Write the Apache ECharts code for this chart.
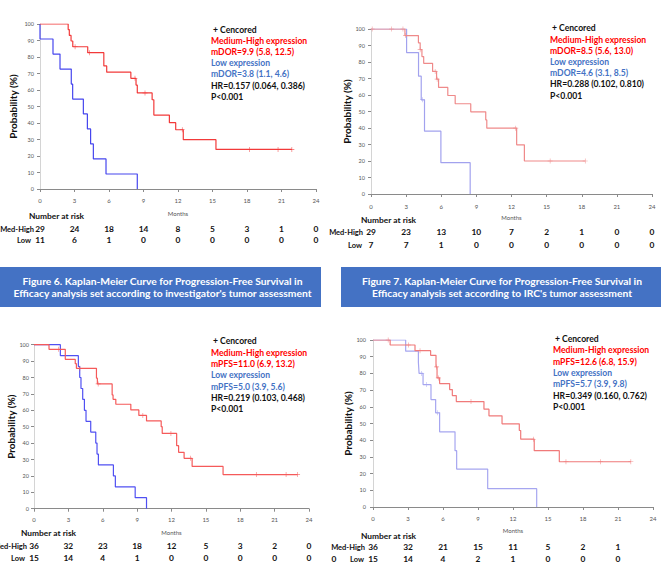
<!DOCTYPE html>
<html><head><meta charset="utf-8">
<script src="https://cdn.jsdelivr.net/npm/echarts@6/dist/echarts.min.js"></script>
<style>html,body{margin:0;padding:0;background:#fff}#c{width:661px;height:565px}</style>
</head><body><div id="c"></div>
<script>
// ---------- DATA ----------
const riskMonths = [0, 3, 6, 9, 12, 15, 18, 21, 24];

// Panel A (top-left): DOR, investigator
const aHighTime = [0, 2.45, 2.55, 2.7, 2.85, 4.15, 5.55, 5.8, 7.9, 8.35, 8.46, 9.75, 9.9, 11.25, 11.8, 12.46, 15.3, 21.9];
const aHighSurv = [100, 96.6, 93.1, 89.7, 86.2, 82.6, 74.6, 70.8, 67.1, 63.0, 58.2, 54.1, 44.8, 40.2, 35.9, 29.9, 24.0, 24.0];
const aHighCensTime = [3.05, 4.3, 8.26, 9.13, 12.37, 18.2, 20.7, 21.9];
const aHighCensSurv = [86.2, 82.6, 67.1, 58.2, 35.9, 24.0, 24.0, 24.0];
const aLowTime = [0, 0, 1.13, 1.74, 2.72, 2.84, 3.77, 4.12, 4.4, 4.64, 5.74, 8.46];
const aLowSurv = [100, 90.9, 81.8, 72.7, 63.6, 54.5, 45.5, 36.4, 27.3, 18.2, 9.1, 0];
const aLowCensTime = [];
const aLowCensSurv = [];
const aRiskHigh = [29, 24, 18, 14, 8, 5, 3, 1, 0];
const aRiskLow = [11, 6, 1, 0, 0, 0, 0, 0, 0];
const aLegend = ['+ Cencored', 'Medium-High expression', 'mDOR=9.9 (5.8, 12.5)', 'Low expression', 'mDOR=3.8 (1.1, 4.6)', 'HR=0.157 (0.064, 0.386)', 'P<0.001'];

// Panel B (top-right): DOR, IRC
const bHighTime = [0, 2.9, 4.05, 4.2, 4.35, 4.5, 5.26, 5.6, 5.77, 6.56, 7.19, 8.52, 9.8, 9.89, 12.44, 13.1, 18.3];
const bHighSurv = [100, 96.0, 91.6, 87.5, 83.3, 79.2, 74.3, 69.6, 64.6, 59.7, 54.7, 49.8, 44.9, 39.9, 29.8, 20.0, 20.0];
const bHighCensTime = [0.1, 1.76, 2.73, 2.95, 4.2, 5.48, 5.65, 12.36, 15.3, 18.3];
const bHighCensSurv = [100, 100, 100, 96.0, 87.5, 74.3, 69.6, 39.9, 20.0, 20.0];
const bLowTime = [0, 3.04, 4.06, 4.29, 4.57, 5.97, 8.47];
const bLowSurv = [100, 85.7, 71.4, 57.1, 38.1, 19.0, 0];
const bLowCensTime = [4.4];
const bLowCensSurv = [57.1];
const bRiskHigh = [29, 23, 13, 10, 7, 2, 1, 0, 0];
const bRiskLow = [7, 7, 1, 0, 0, 0, 0, 0, 0];
const bLegend = ['+ Cencored', 'Medium-High expression', 'mDOR=8.5 (5.6, 13.0)', 'Low expression', 'mDOR=4.6 (3.1, 8.5)', 'HR=0.288 (0.102, 0.810)', 'P<0.001'];

// Panel C (bottom-left): PFS, investigator
const cHighTime = [0, 1.31, 2.73, 3.6, 3.7, 5.45, 5.53, 6.82, 6.9, 7.14, 8.45, 9.15, 9.82, 11.1, 11.19, 12.45, 12.62, 13.1, 13.8, 16.5, 23.0];
const cHighSurv = [100, 97.2, 91.1, 88.4, 85.6, 79.6, 76.1, 69.4, 66.7, 63.7, 60.2, 56.9, 53.5, 50.0, 45.9, 38.4, 34.4, 30.7, 25.8, 20.8, 20.8];
const cHighCensTime = [2.13, 4.0, 5.6, 9.5, 11.95, 13.67, 19.4, 22.0, 23.0];
const cHighCensSurv = [97.2, 85.6, 76.1, 56.9, 45.9, 30.7, 20.8, 20.8, 20.8];
const cLowTime = [0, 2.3, 3.87, 3.99, 4.1, 4.25, 4.4, 4.54, 4.95, 5.39, 5.5, 5.62, 6.93, 7.1, 8.83, 9.82];
const cLowSurv = [100, 93.3, 86.7, 80.0, 73.3, 66.7, 60.0, 53.3, 46.7, 40.0, 33.3, 26.7, 20.0, 13.3, 6.7, 0];
const cLowCensTime = [];
const cLowCensSurv = [];
const cRiskHigh = [36, 32, 23, 18, 12, 5, 3, 2, 0];
const cRiskLow = [15, 14, 4, 1, 0, 0, 0, 0, 0];
const cLegend = ['+ Cencored', 'Medium-High expression', 'mPFS=11.0 (6.9, 13.2)', 'Low expression', 'mPFS=5.0 (3.9, 5.6)', 'HR=0.219 (0.103, 0.468)', 'P<0.001'];

// Panel D (bottom-right): PFS, IRC
const dHighTime = [0, 1.47, 3.6, 4.94, 5.4, 5.49, 5.71, 6.57, 6.8, 7.14, 9.51, 9.94, 11.06, 12.54, 12.66, 13.82, 15.97, 22.1];
const dHighSurv = [100, 97.0, 93.6, 90.8, 83.9, 77.3, 73.9, 70.3, 66.7, 63.1, 58.6, 54.6, 49.8, 45.8, 40.6, 33.7, 27.1, 27.1];
const dHighCensTime = [1.3, 3.03, 4.03, 5.45, 5.6, 8.4, 13.74, 16.54, 19.5, 22.1];
const dHighCensSurv = [100, 97.0, 93.6, 83.9, 77.3, 63.1, 40.6, 27.1, 27.1, 27.1];
const dLowTime = [0, 2.8, 3.89, 3.95, 4.29, 4.97, 5.37, 5.71, 7.03, 7.17, 9.83, 14.03];
const dLowSurv = [100, 93.3, 86.7, 80.0, 73.3, 64.3, 56.4, 45.0, 33.7, 22.7, 11.0, 0];
const dLowCensTime = [4.17, 4.57, 5.54];
const dLowCensSurv = [80.0, 73.3, 56.4];
const dRiskHigh = [36, 32, 21, 15, 11, 5, 2, 1];
const dRiskHighWrapped = '0';
const dRiskLow = [15, 14, 4, 2, 1, 0, 0, 0];
const dLegend = ['+ Cencored', 'Medium-High expression', 'mPFS=12.6 (6.8, 15.9)', 'Low expression', 'mPFS=5.7 (3.9, 9.8)', 'HR=0.349 (0.160, 0.762)', 'P<0.001'];

const banner6 = ['Figure 6. Kaplan-Meier Curve for Progression-Free Survival in', "Efficacy analysis set according to investigator's tumor assessment"];
const banner7 = ['Figure 7. Kaplan-Meier Curve for Progression-Free Survival in', "Efficacy analysis set according to IRC's tumor assessment"];

// ---------- LAYOUT / STYLE ----------
const FONT = 'Lato';
const panels = [
  { grid: {left: 40, top: 24, width: 276, height: 165}, xOff: 4, yOff: 4, lblMargin: 4, xNameGap: 17, yNameGap: 18,
    high: [aHighTime, aHighSurv, aHighCensTime, aHighCensSurv], low: [aLowTime, aLowSurv, aLowCensTime, aLowCensSurv],
    red: '#f23a3a', blue: '#4646ee', legend: aLegend, legX: 211, legY: 30, legStep: 11.1, labGap: 6,
    riskTitle: [29, 216], riskY: [229, 240], riskHigh: aRiskHigh, riskLow: aRiskLow },
  { grid: {left: 371, top: 29, width: 281, height: 165}, xOff: 5, yOff: 4, lblMargin: 4, xNameGap: 15, yNameGap: 14,
    high: [bHighTime, bHighSurv, bHighCensTime, bHighCensSurv], low: [bLowTime, bLowSurv, bLowCensTime, bLowCensSurv],
    red: '#ef8a8a', blue: '#a2a2ee', legend: bLegend, legX: 550, legY: 28.3, legStep: 11.2, labGap: 8,
    riskTitle: [361, 220], riskY: [232, 245], riskHigh: bRiskHigh, riskLow: bRiskLow },
  { grid: {left: 34, top: 344.7, width: 275, height: 164}, xOff: 3, yOff: 3, lblMargin: 5, xNameGap: 18, yNameGap: 13,
    high: [cHighTime, cHighSurv, cHighCensTime, cHighCensSurv], low: [cLowTime, cLowSurv, cLowCensTime, cLowCensSurv],
    red: '#f55a5a', blue: '#5050f2', legend: cLegend, legX: 211, legY: 341.3, legStep: 11.3, labGap: 7,
    riskTitle: [21, 533], riskY: [546, 558], riskHigh: cRiskHigh, riskLow: cRiskLow },
  { grid: {left: 373, top: 340, width: 280, height: 167}, xOff: 4, yOff: 5, lblMargin: 4, xNameGap: 16, yNameGap: 13,
    high: [dHighTime, dHighSurv, dHighCensTime, dHighCensSurv], low: [dLowTime, dLowSurv, dLowCensTime, dLowCensSurv],
    red: '#f07a7a', blue: '#a6a6f0', legend: dLegend, legX: 553, legY: 339, legStep: 11.3, labGap: 8,
    riskTitle: [361, 536], riskY: [547, 559], riskHigh: dRiskHigh, riskLow: dRiskLow }
];

function zip(t, s) { return t.map((v, i) => [v, s[i]]); }
const PLUS = 'path://M0,4.4H10V5.6H0Z M4.4,0H5.6V10H4.4Z';
const LEGF = 'bold 8.6px ' + FONT;
const RF = 'bold 8.4px ' + FONT;
const LABF = 'bold 7.5px ' + FONT;
const BF = 'bold 10.3px ' + FONT;

const grids = [], xAxes = [], yAxes = [], series = [], graphics = [];
panels.forEach((p, i) => {
  grids.push(Object.assign({containLabel: false}, p.grid));
  xAxes.push({
    gridIndex: i, type: 'value', min: 0, max: 24, interval: 3, offset: p.xOff,
    axisLine: {lineStyle: {color: '#8a8a8a', width: 1}},
    axisTick: {length: 3, lineStyle: {color: '#8a8a8a'}},
    axisLabel: {fontSize: 6, color: '#555', margin: p.lblMargin, fontFamily: FONT},
    splitLine: {show: false},
    name: 'Months', nameLocation: 'middle', nameGap: p.xNameGap,
    nameTextStyle: {fontSize: 6, color: '#555', fontFamily: FONT}
  });
  yAxes.push({
    gridIndex: i, type: 'value', min: 0, max: 100, interval: 10, offset: p.yOff,
    axisLine: {show: true, lineStyle: {color: '#d4d4d4'}},
    axisTick: {show: true, length: 3, lineStyle: {color: '#8a8a8a'}},
    axisLabel: {fontSize: 5.5, color: '#555', margin: 2, fontFamily: FONT},
    splitLine: {show: false},
    name: 'Probability (%)', nameLocation: 'middle', nameGap: p.yNameGap, nameRotate: 90,
    nameTextStyle: {fontSize: 10, fontWeight: 'bold', color: '#111', fontFamily: FONT}
  });
  [[p.low, p.blue], [p.high, p.red]].forEach(([d, col]) => {
    series.push({type: 'line', xAxisIndex: i, yAxisIndex: i, step: 'end', data: zip(d[0], d[1]),
      symbol: 'none', lineStyle: {color: col, width: 1.2}, animation: false, silent: true});
    if (d[2].length) series.push({type: 'scatter', xAxisIndex: i, yAxisIndex: i, data: zip(d[2], d[3]),
      symbol: PLUS, symbolSize: 5, itemStyle: {color: col}, animation: false, silent: true, z: 5});
  });
  const legCols = ['#111', '#ff0000', '#ff0000', '#4472c4', '#4472c4', '#111', '#111'];
  p.legend.forEach((t, k) => {
    graphics.push({type: 'text', id: 'leg' + i + '_' + k, silent: true,
      style: {text: t, x: p.legX + (k === 0 ? 2 : 0), y: p.legY + k * p.legStep, fill: legCols[k],
        font: LEGF, textAlign: 'left', textVerticalAlign: 'middle', align: 'left', verticalAlign: 'middle'}});
  });
  graphics.push({type: 'text', id: 'rt' + i, silent: true,
    style: {text: 'Number at risk', x: p.riskTitle[0], y: p.riskTitle[1], fill: '#111',
      font: RF, textAlign: 'left', textVerticalAlign: 'middle', align: 'left', verticalAlign: 'middle'}});
});

// banners
[[banner6, 0, 321], [banner7, 341, 661]].forEach(([lines, x0, x1], j) => {
  graphics.push({type: 'rect', id: 'bn' + j, silent: true, shape: {x: x0, y: 267, width: x1 - x0, height: 40}, style: {fill: '#4472c4'}});
  lines.forEach((t, k) => {
    graphics.push({type: 'text', id: 'bt' + j + '_' + k, silent: true,
      style: {text: t, x: (x0 + x1) / 2 + (j === 0 ? 2 : 1), y: 281 + k * 12.3, fill: '#fff',
        font: BF, textAlign: 'center', textVerticalAlign: 'middle', align: 'center', verticalAlign: 'middle'}});
  });
});

const chart = echarts.init(document.getElementById('c'), null, {renderer: 'svg'});
chart.setOption({
  animation: false,
  textStyle: {fontFamily: FONT},
  grid: grids, xAxis: xAxes, yAxis: yAxes, series: series,
  graphic: {elements: graphics}
});

// number-at-risk rows placed with the x scales
const riskG = [];
function txt(id, t, x, y, align, font) {
  riskG.push({type: 'text', id: id, silent: true,
    style: {text: String(t), x: x, y: y, fill: '#111', font: font || RF, textAlign: align, textVerticalAlign: 'middle', align: align, verticalAlign: 'middle'}});
}
panels.forEach((p, i) => {
  const x0 = chart.convertToPixel({xAxisIndex: i}, 0);
  txt('rlh' + i, 'Med-High', x0 - p.labGap, p.riskY[0], 'right', LABF);
  txt('rll' + i, 'Low', x0 - 9, p.riskY[1], 'right', LABF);
  p.riskHigh.forEach((v, k) => txt('rh' + i + '_' + k, v, chart.convertToPixel({xAxisIndex: i}, riskMonths[k]), p.riskY[0], 'center'));
  p.riskLow.forEach((v, k) => txt('rl' + i + '_' + k, v, chart.convertToPixel({xAxisIndex: i}, riskMonths[k]), p.riskY[1], 'center'));
  if (i === 3) txt('rwrap', dRiskHighWrapped, x0 - 39, p.riskY[1], 'center');
});
chart.setOption({graphic: {elements: riskG}});
</script></body></html>
